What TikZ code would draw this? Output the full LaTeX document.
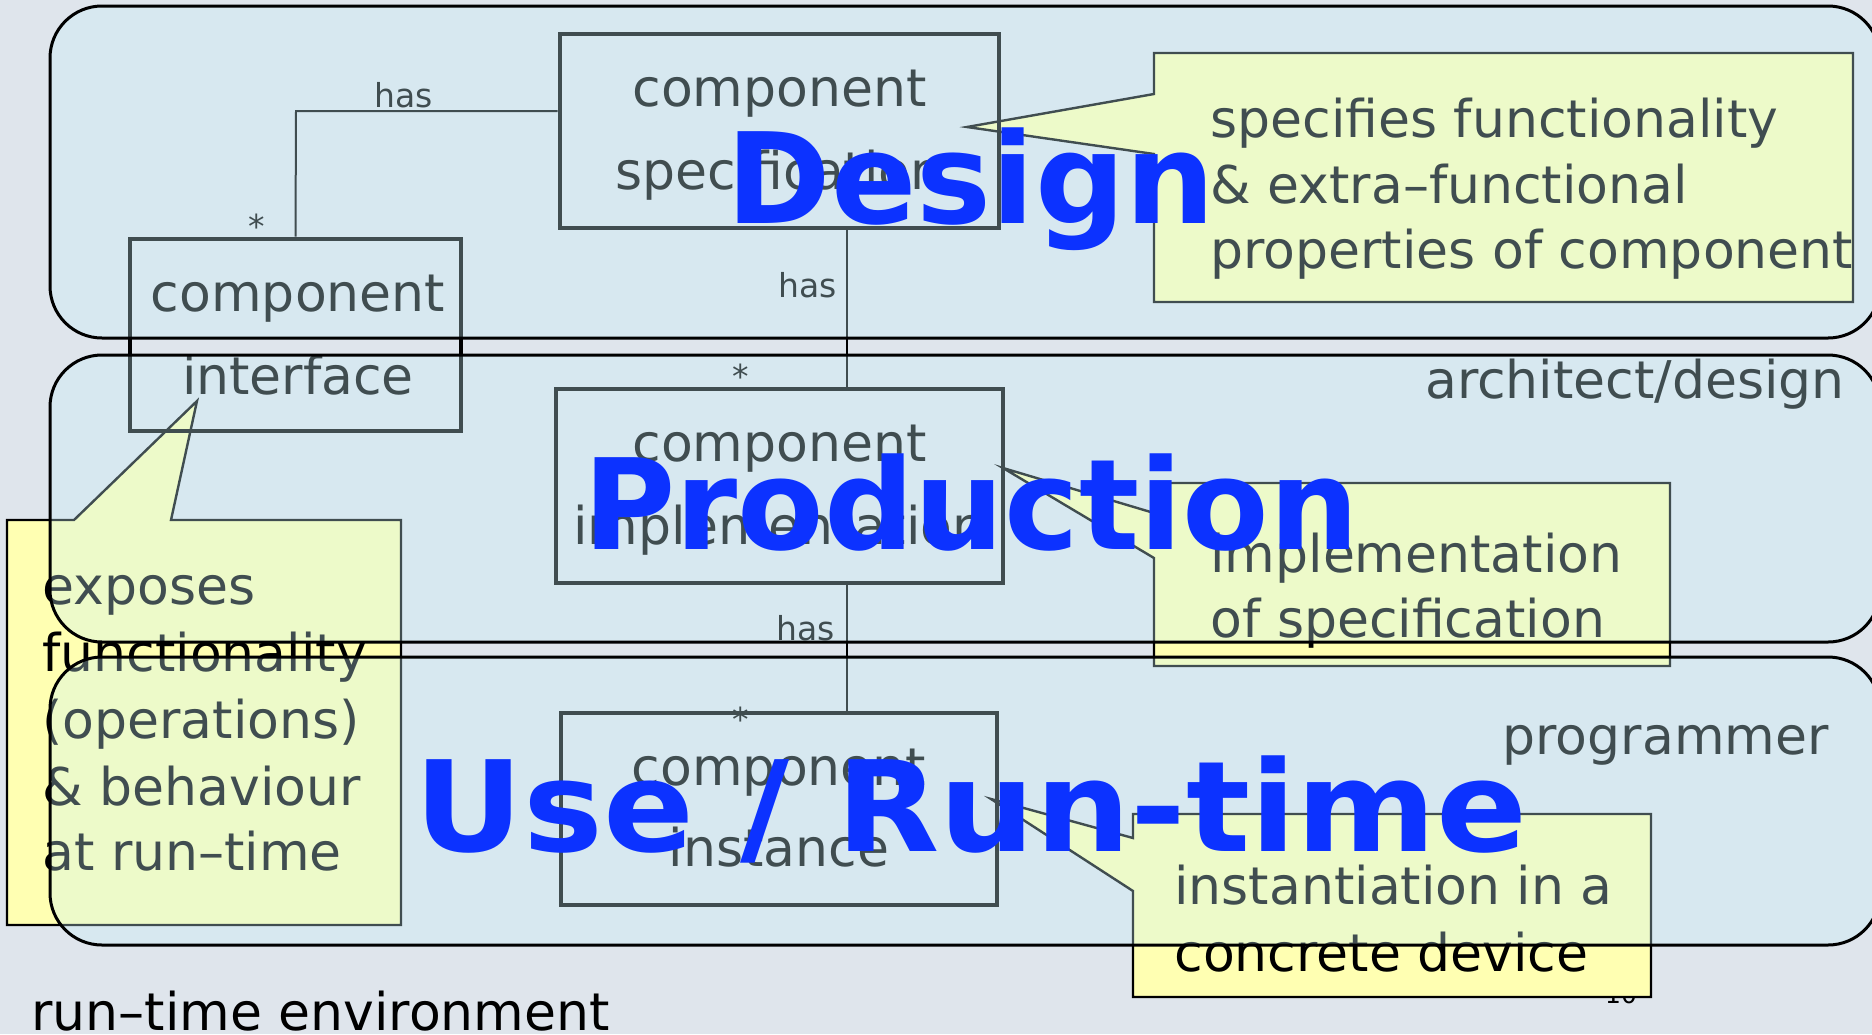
\documentclass[tikz,border=0pt]{standalone}
\usepackage{fontspec}
\setmainfont{DejaVu Sans}
\definecolor{pagebg}{RGB}{223,229,236}
\definecolor{notefill}{RGB}{255,255,178}
\definecolor{bandtint}{RGB}{200,240,250}
\definecolor{phaseblue}{RGB}{12,50,255}
\tikzset{
  slidetext/.style={font=\fontsize{26pt}{31pt}\selectfont, text=black, inner sep=0pt},
  smalltext/.style={font=\fontsize{16.5pt}{20pt}\selectfont, text=black, inner sep=0pt},
  pagenum/.style={font=\fontsize{12.5pt}{15pt}\selectfont, text=black, inner sep=0pt},
  compbox/.style={draw=black, line width=2.4pt, inner sep=0pt},
  note/.style={draw=black, line width=1.2pt, fill=notefill, line join=miter},
  link/.style={draw=black, line width=1pt},
  band/.style={draw=black, line width=1.5pt, fill=bandtint, fill opacity=0.32, rounded corners=26pt},
  phase/.style={font=\fontsize{63pt}{70pt}\selectfont\bfseries, text=phaseblue, inner sep=0pt},
}
\begin{document}
\begin{tikzpicture}[x=0.5pt,y=-0.5pt]
\path[use as bounding box] (0,0) rectangle (1872,1034);
\clip (0,0) rectangle (1872,1034);
\fill[pagebg] (0,0) rectangle (1872,1034);

% slide number, mostly hidden behind the last note
\node[pagenum, anchor=base] (pageno) at (1621,1003) {10};

% yellow notes with pointers
\draw[note] (1154,53) -- (1853,53) -- (1853,302) -- (1154,302) -- (1154,154) -- (967,127) -- (1154,94) -- cycle;
\draw[note] (7,520) -- (74,520) -- (197,401) -- (171,520) -- (401,520) -- (401,925) -- (7,925) -- cycle;
\draw[note] (1154,483) -- (1670,483) -- (1670,666) -- (1154,666) -- (1154,558) -- (1003,468) -- (1154,513) -- cycle;
\draw[note] (1133,814) -- (1651,814) -- (1651,997) -- (1133,997) -- (1133,891) -- (991,799) -- (1133,838) -- cycle;

% component boxes
\node[compbox, minimum width=219.5pt, minimum height=97pt] (spec) at (779.5,131) {};
\node[compbox, minimum width=165.5pt, minimum height=96pt] (iface) at (295.5,335) {};
\node[compbox, minimum width=223.5pt, minimum height=97pt] (impl) at (779.5,486) {};
\node[compbox, minimum width=218pt, minimum height=96pt] (inst) at (779,809) {};

\node[slidetext, anchor=base] (specA) at (779.5,106) {component};
\node[slidetext, anchor=base] (specB) at (779.5,189) {specification};
\node[slidetext, anchor=base] (ifaceA) at (298,311) {component};
\node[slidetext, anchor=base] (ifaceB) at (298,394) {interface};
\node[slidetext, anchor=base] (implA) at (779.5,461) {component};
\node[slidetext, anchor=base] (implB) at (779.5,544) {implementation};
\node[slidetext, anchor=base] (instA) at (779,785) {component};
\node[slidetext, anchor=base] (instB) at (779,866) {instance};

% associations
\coordinate (bend) at (296,111);
\coordinate (axis) at (847,0);
\draw[link] (spec.west |- bend) -- (bend) -- (iface.north);
\draw[link] (spec.south -| axis) -- (impl.north -| axis);
\draw[link] (impl.south -| axis) -- (inst.north -| axis);

\node[smalltext, anchor=base] (has1) at (404,107) {has};
\node[smalltext, anchor=base] (has2) at (808,297) {has};
\node[smalltext, anchor=base] (has3) at (806,640) {has};
\node[smalltext, anchor=base] (mul1) at (257,238) {*};
\node[smalltext, anchor=base] (mul2) at (741,388) {*};
\node[smalltext, anchor=base] (mul3) at (741,731) {*};

% note texts
\node[slidetext, anchor=base west] (n1a) at (1210,137) {specifies functionality};
\node[slidetext, anchor=base west] (n1b) at (1210,203) {\& extra–functional};
\node[slidetext, anchor=base west] (n1c) at (1210,268) {properties of component};
\node[slidetext, anchor=base west] (n2a) at (42,604) {exposes};
\node[slidetext, anchor=base west] (n2b) at (42,671) {functionality};
\node[slidetext, anchor=base west] (n2c) at (42,738) {(operations)};
\node[slidetext, anchor=base west] (n2d) at (42,805) {\& behaviour};
\node[slidetext, anchor=base west] (n2e) at (42,870) {at run–time};
\node[slidetext, anchor=base west] (n3a) at (1210,572) {implementation};
\node[slidetext, anchor=base west] (n3b) at (1210,637) {of specification};
\node[slidetext, anchor=base west] (n4a) at (1174,904) {instantiation in a};
\node[slidetext, anchor=base west] (n4b) at (1174,971) {concrete device};

% role labels
\node[slidetext, anchor=base east] (role1) at (1845,398) {architect/design};
\node[slidetext, anchor=base east] (role2) at (1829,754) {programmer};
\node[slidetext, anchor=base west] (role3) at (31,1030) {run–time environment};

% translucent phase bands
\path[band] (50,6) rectangle (1880,338);
\path[band] (50,355) rectangle (1880,642);
\path[band] (50,657) rectangle (1880,945);

% phase titles
\node[phase, anchor=base] (design) at (971,223) {Design};
\node[phase, anchor=base] (production) at (971,549) {Production};
\node[phase, anchor=base] (use) at (971,851) {\scalebox{1.065}[1]{Use / Run-time}};
\end{tikzpicture}
\end{document}
